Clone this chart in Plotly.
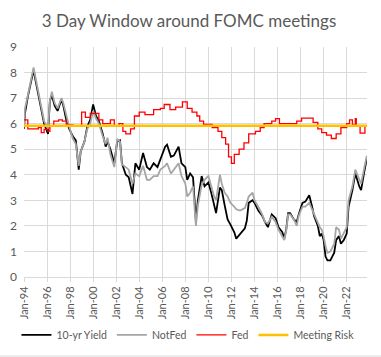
import plotly.graph_objects as go

# ---------------- data ----------------
months = [
    "1994-01", "1994-02", "1994-05", "1994-08", "1994-11", "1995-01", "1995-05", "1995-08", "1995-10",
    "1996-02", "1996-04", "1996-06", "1996-09", "1996-12", "1997-04", "1997-06", "1997-09", "1997-12",
    "1998-04", "1998-07", "1998-10", "1998-12", "1999-04", "1999-07", "1999-10", "2000-01", "2000-04",
    "2000-07", "2000-11", "2001-02", "2001-04", "2001-07", "2001-11", "2002-02", "2002-05", "2002-07",
    "2002-11", "2003-02", "2003-06", "2003-09", "2004-01", "2004-05", "2004-09", "2004-12", "2005-04",
    "2005-08", "2005-11", "2006-04", "2006-06", "2006-10", "2007-01", "2007-06", "2007-09", "2008-01",
    "2008-03", "2008-06", "2008-09", "2008-12", "2009-02", "2009-06", "2009-09", "2010-01", "2010-04",
    "2010-07", "2010-09", "2011-01", "2011-03", "2011-06", "2011-09", "2011-12", "2012-04", "2012-06",
    "2012-10", "2013-03", "2013-05", "2013-07", "2013-11", "2014-01", "2014-05", "2014-09", "2014-12",
    "2015-03", "2015-07", "2015-11", "2016-02", "2016-06", "2016-08", "2016-10", "2016-12", "2017-02",
    "2017-06", "2017-09", "2017-11", "2018-03", "2018-06", "2018-10", "2019-01", "2019-03", "2019-07",
    "2019-09", "2019-11", "2020-01", "2020-03", "2020-05", "2020-08", "2020-12", "2021-02", "2021-05",
    "2021-07", "2021-10", "2022-01", "2022-03", "2022-07", "2022-10", "2023-02", "2023-04", "2023-07",
    "2023-10",
]

yield_10yr = [
    5.8, 6.4, 7.05, 7.6, 8.1, 7.7, 6.9, 6.3, 6.0,
    5.6, 6.9, 7.1, 6.7, 6.5, 6.95, 6.7, 6.15, 5.8,
    5.5, 5.35, 4.2, 4.9, 5.3, 5.9, 6.15, 6.75, 6.3,
    6.1, 5.6, 5.1, 5.3, 5.0, 4.45, 5.3, 5.35, 4.45,
    4.0, 3.9, 3.25, 4.45, 4.2, 4.85, 4.3, 4.2, 4.45,
    4.3, 4.6, 5.1, 5.18, 4.7, 4.75, 5.1, 4.45, 4.3,
    3.8, 4.05, 3.9, 2.2, 3.0, 3.95, 3.55, 3.7, 3.3,
    2.8, 2.5, 3.5, 3.4, 2.8, 2.25, 2.05, 1.75, 1.5,
    1.7, 1.9, 2.2, 2.9, 3.0, 2.9, 2.6, 2.4, 2.15,
    1.95, 2.45, 2.3, 1.95, 1.75, 1.5, 1.85, 2.5, 2.5,
    2.25, 2.15, 2.45, 2.9, 2.95, 3.2, 2.75, 2.4, 2.0,
    1.6, 1.7, 1.45, 0.8, 0.65, 0.65, 0.95, 1.45, 1.6,
    1.3, 1.45, 1.7, 2.75, 3.4, 4.05, 3.55, 3.4, 4.05,
    4.65,
]

not_fed = [
    5.85, 6.6, 7.1, 7.7, 8.2, 7.8, 7.0, 6.4, 6.1,
    5.8, 6.9, 7.25, 6.8, 6.6, 7.0, 6.8, 6.3, 5.9,
    5.4, 5.2, 4.35, 4.9, 5.3, 5.8, 6.0, 6.5, 6.2,
    6.0, 5.5, 5.2, 5.45, 4.8, 4.3, 5.4, 5.3, 4.4,
    4.3, 4.2, 3.65, 4.05, 3.95, 4.35, 3.8, 3.8, 3.95,
    3.95, 4.2, 4.35, 4.45, 4.05, 4.2, 4.45, 3.95, 3.65,
    3.15, 3.3, 3.55, 2.0, 2.8, 3.6, 3.8, 3.95, 3.55,
    3.15, 3.0, 4.0, 3.65, 3.3, 3.15, 2.9, 2.75, 2.65,
    2.6, 2.7, 2.9, 3.15, 3.3, 3.0, 2.75, 2.45, 2.15,
    2.1, 2.35, 2.15, 1.85, 1.6, 1.45, 1.8, 2.45, 2.45,
    2.25, 2.0, 2.4, 2.75, 2.75, 2.9, 2.65, 2.5, 2.1,
    1.95, 1.85, 1.6, 1.2, 0.95, 1.0, 1.3, 1.95, 1.85,
    1.5, 1.7, 1.95, 3.0, 3.55, 4.2, 3.8, 3.65, 4.2,
    4.75,
]

fed_dates = [
    "1994-01", "1994-05", "1995-04", "1995-07", "1995-10", "1996-02", "1996-04", "1996-08", "1997-01",
    "1997-05", "1997-09", "1998-04", "1999-01", "1999-05", "1999-10", "2000-07", "2000-11", "2001-07",
    "2001-11", "2002-04", "2002-08", "2002-11", "2003-04", "2003-08", "2004-01", "2004-07", "2005-04",
    "2005-11", "2006-03", "2006-09", "2007-03", "2007-10", "2008-03", "2008-08", "2009-01", "2009-04",
    "2009-08", "2010-05", "2010-11", "2011-03", "2011-07", "2011-10", "2012-01", "2012-04", "2012-09",
    "2013-02", "2013-07", "2014-02", "2014-07", "2014-11", "2015-07", "2015-11", "2016-03", "2017-09",
    "2018-02", "2019-02", "2019-07", "2019-11", "2020-04", "2020-09", "2021-02", "2021-07", "2022-01",
    "2022-04", "2022-07", "2022-10", "2022-11", "2023-03", "2023-08", "2023-10",
]

fed = [
    6.15, 5.8, 5.85, 5.65, 5.78, 5.7, 5.9, 6.1, 6.15,
    6.1, 5.95, 5.92, 6.45, 6.25, 6.4, 6.15, 6.0, 6.15,
    5.9, 6.0, 5.7, 5.6, 5.8, 6.3, 6.45, 6.35, 6.55,
    6.6, 6.75, 6.55, 6.65, 6.85, 6.6, 6.45, 6.3, 6.1,
    5.97, 5.85, 5.7, 5.45, 5.2, 4.7, 4.45, 4.8, 5.0,
    5.25, 5.6, 5.7, 5.85, 6.0, 6.1, 6.2, 6.0, 6.1,
    6.22, 6.05, 5.8, 5.65, 5.55, 5.42, 5.6, 5.85, 6.0,
    6.15, 5.95, 6.2, 5.9, 5.63, 5.9, 5.9,
]

risk_dates = [
    "1994-01", "1996-01", "1998-01", "2000-01", "2002-01", "2004-01", "2006-01", "2008-01",
    "2010-01", "2012-01", "2014-01", "2016-01", "2018-01", "2020-01", "2022-01", "2023-10",
]
meeting_risk = [
    5.92, 5.92, 5.91, 5.92, 5.92, 5.91, 5.92, 5.92,
    5.92, 5.91, 5.92, 5.92, 5.92, 5.91, 5.92, 5.92,
]

title_text = "3 Day Window around FOMC meetings"

# ---------------- figure ----------------
FONT = "Lato, 'Open Sans', sans-serif"
TXT = "#595959"
GRID = "#D9D9D9"

fig = go.Figure()
fig.add_trace(go.Scatter(x=months, y=yield_10yr, mode="lines", name="10-yr Yield",
                         line=dict(color="#000000", width=1.8)))
fig.add_trace(go.Scatter(x=months, y=not_fed, mode="lines", name="NotFed",
                         line=dict(color="#A5A5A5", width=1.8)))
fig.add_trace(go.Scatter(x=fed_dates, y=fed, mode="lines", name="Fed",
                         line=dict(color="#FF0000", width=1.3, shape="hv")))
fig.add_trace(go.Scatter(x=risk_dates, y=meeting_risk, mode="lines", name="Meeting Risk",
                         line=dict(color="#FFC000", width=2.6)))

fig.update_layout(
    width=381, height=357, autosize=False,
    margin=dict(l=24, r=14, t=47, b=80, autoexpand=False),
    paper_bgcolor="white", plot_bgcolor="white",
    font=dict(family=FONT, color=TXT, size=11),
    title=dict(text=title_text, x=189 / 381, xanchor="center", xref="container",
               y=1 - 21 / 357, yanchor="middle", yref="container",
               font=dict(family=FONT, size=17, color=TXT)),
    showlegend=True,
    legend=dict(orientation="h", x=-0.022, xanchor="left", y=-0.252, yanchor="middle",
                font=dict(family=FONT, size=10.5, color=TXT), itemwidth=30,
                bgcolor="rgba(0,0,0,0)", traceorder="normal"),
    xaxis=dict(type="date", range=["1994-01-01", "2023-10-06"], automargin=False,
               tick0="1994-01-01", dtick="M24", tickformat="%b-%y", tickangle=-90,
               showgrid=True, gridcolor=GRID, gridwidth=1,
               showline=True, linecolor=GRID, linewidth=1,
               ticks="outside", ticklen=4, tickcolor=GRID,
               tickfont=dict(family=FONT, size=11, color=TXT), zeroline=False),
    yaxis=dict(range=[0, 9], dtick=1, showgrid=True, gridcolor=GRID, gridwidth=1,
               automargin=False,
               showline=False, zeroline=False, ticks="", ticklabelstandoff=6,
               tickfont=dict(family=FONT, size=12, color=TXT)),
    shapes=[dict(type="line", xref="paper", yref="paper",
                 x0=-24 / 343, x1=1 + 14 / 343, y0=-79 / 230, y1=-79 / 230,
                 line=dict(color=GRID, width=1))],
)

fig.write_html("out.html", config={"displayModeBar": False},
               post_script="document.body.style.margin='0px';")
